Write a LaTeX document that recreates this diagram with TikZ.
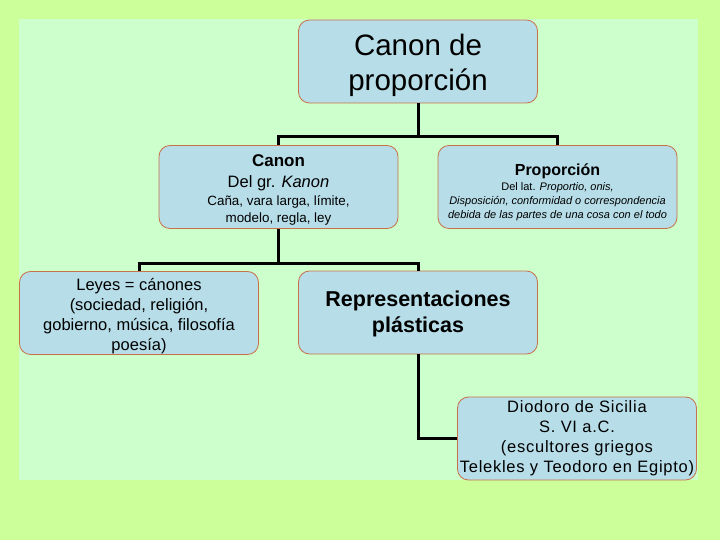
\documentclass[tikz,border=0pt]{standalone}
\usepackage{fontspec}
\setmainfont{Liberation Sans}
\newfontfamily\spacedfont[LetterSpace=4.5]{Liberation Sans}
\definecolor{outerbg}{RGB}{204,255,153}
\definecolor{innerbg}{RGB}{204,255,204}
\definecolor{boxfill}{RGB}{183,221,232}
\definecolor{boxline}{RGB}{200,112,72}
\newcommand{\fs}[2]{\fontsize{#1}{#2}\selectfont}
\newcommand{\dnstrut}[1]{\rule{0pt}{#1}}
\tikzset{
  box/.style={draw=boxline, line width=0.8pt, fill=boxfill, rounded corners=11pt,
    minimum width=239pt, minimum height=83pt, inner sep=0pt, align=center, text=black},
  conn/.style={draw=black, line width=3pt}
}
\begin{document}
\begin{tikzpicture}[x=1pt,y=-1pt]
\useasboundingbox (0,0) rectangle (720,540);
\fill[outerbg] (0,0) rectangle (720,540);
\fill[innerbg] (19,19) rectangle (698,480);

\node[box, font=\fs{29.5}{35}] (top) at (418,61.5) {\dnstrut{28.5pt}Canon de\\proporción};

\node[box, font=\fs{13.4}{17}] (canon) at (278.5,187)
  {{\bfseries\fs{17}{17}\dnstrut{18.4pt}Canon}\\[4pt]{\fs{16.5}{17}Del gr. \textit{Kanon}}\\[1pt]Caña, vara larga, límite,\\modelo, regla, ley};

\node[box, font=\fs{11}{14}] (prop) at (557.5,187)
  {{\bfseries\fs{16}{14}\dnstrut{22.5pt}Proporción}\\[1pt]Del lat. \textit{Proportio, onis,}\\\textit{Disposición, conformidad o correspondencia}\\\textit{debida de las partes  de una cosa con el todo}};

\node[box, font=\fs{16.5}{20}] (leyes) at (139,313)
  {\dnstrut{19pt}Leyes = cánones\\(sociedad, religión,\\gobierno, música, filosofía\\poesía)};

\node[box, font=\bfseries\fs{21.5}{26}] (repr) at (418,312.5)
  {\dnstrut{19pt}Representaciones\\plásticas};

\node[box, font=\spacedfont\fs{16.5}{20}] (diod) at (577,438.5)
  {Diodoro de Sicilia\\S. VI a.C.\\(escultores griegos\\Telekles y Teodoro en Egipto)};

\coordinate (j1) at (418,137);
\coordinate (j2) at (278.5,263);

\draw[conn] (top.south) -- (j1);
\draw[conn] (canon.north) |- (j1) -| (prop.north);
\draw[conn] (canon.south) -- (j2);
\draw[conn] (leyes.north) |- (j2) -| (repr.north);
\draw[conn] (repr.south) |- (diod.west);
\end{tikzpicture}
\end{document}
